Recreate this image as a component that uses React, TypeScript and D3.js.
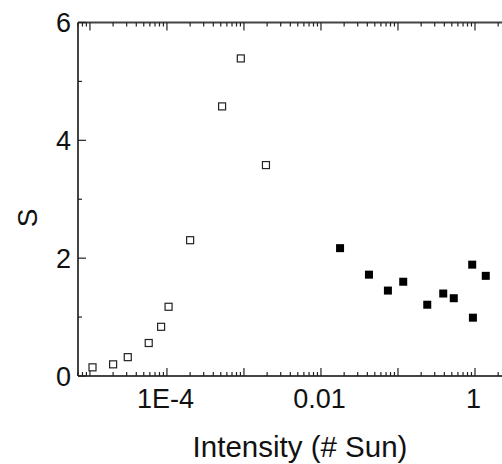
import React from "react";
import * as d3 from "d3";

const openX = [1.08e-5, 2.0e-5, 3.1e-5, 5.8e-5, 8.4e-5, 1.05e-4, 2.0e-4, 5.2e-4, 9.1e-4, 1.93e-3];
const openY = [0.147, 0.198, 0.32, 0.56, 0.835, 1.175, 2.305, 4.576, 5.39, 3.58];
const filledX = [0.0177, 0.042, 0.074, 0.117, 0.24, 0.387, 0.53, 0.92, 0.94, 1.38];
const filledY = [2.17, 1.72, 1.45, 1.6, 1.21, 1.4, 1.32, 1.89, 0.99, 1.7];
const xTickValues = [1e-4, 0.01, 1];
const xTickLabels = ["1E-4", "0.01", "1"];
const yMajor = [0, 2, 4, 6];
const yMinor = [1, 3, 5];

const W = 502;
const H = 464;
const left = 78;
const top = 22.5;
const bottom = 376;
const right = 552;
const font = "Liberation Sans, Arial, sans-serif";
const axisColor = "#444";

export default function App() {
  const x = d3.scaleLog().domain([7e-6, 10]).range([left, right]);
  const y = d3.scaleLinear().domain([0, 6]).range([bottom, top]);
  const allTicks = x.ticks();
  const isMajor = (v: number) => Math.abs(Math.log10(v) - Math.round(Math.log10(v))) < 1e-6;

  return (
    <svg width={W} height={H} style={{ position: "absolute", left: 0, top: 0, background: "#fff" }}>
      <line x1={left} y1={top} x2={left} y2={bottom} stroke={axisColor} strokeWidth={2} />
      <line x1={left} y1={bottom} x2={right} y2={bottom} stroke={axisColor} strokeWidth={2} />
      <line x1={left} y1={top} x2={right} y2={top} stroke={axisColor} strokeWidth={2} />
      <line x1={right} y1={top} x2={right} y2={bottom} stroke={axisColor} strokeWidth={2} />
      {allTicks.map((v, i) => {
        const len = isMajor(v) ? 8 : 4;
        const px = x(v);
        return (
          <g key={"xt" + i}>
            <line x1={px} x2={px} y1={bottom} y2={bottom - len} stroke="#222" strokeWidth={1.2} />
            <line x1={px} x2={px} y1={top} y2={top + len} stroke="#222" strokeWidth={1.2} />
          </g>
        );
      })}
      {xTickValues.map((v, i) => (
        <text key={"xl" + i} x={x(v) - 1.5} y={408} textAnchor="middle" fontFamily={font} fontSize={27} fill="#111">
          {xTickLabels[i]}
        </text>
      ))}
      {yMajor.map((v) => (
        <g key={"ym" + v}>
          <line x1={left} x2={left + 8} y1={y(v)} y2={y(v)} stroke="#222" strokeWidth={1.2} />
          <text x={71} y={y(v) + 9.5} textAnchor="end" fontFamily={font} fontSize={27} fill="#111">
            {v}
          </text>
        </g>
      ))}
      {yMinor.map((v) => (
        <line key={"yn" + v} x1={left} x2={left + 4} y1={y(v)} y2={y(v)} stroke="#222" strokeWidth={1.2} />
      ))}
      <text x={300} y={457} textAnchor="middle" fontFamily={font} fontSize={29.5} fill="#111">
        Intensity (# Sun)
      </text>
      <text transform="translate(37,218) rotate(-90)" textAnchor="middle" fontFamily={font} fontSize={28} fill="#111">
        S
      </text>
      {openX.map((v, i) => (
        <rect key={"o" + i} x={x(v) - 3.5} y={y(openY[i]) - 3.5} width={7} height={7} fill="#fff" stroke="#222" strokeWidth={1.2} />
      ))}
      {filledX.map((v, i) => (
        <rect key={"f" + i} x={x(v) - 4} y={y(filledY[i]) - 4} width={8} height={8} fill="#000" />
      ))}
    </svg>
  );
}
